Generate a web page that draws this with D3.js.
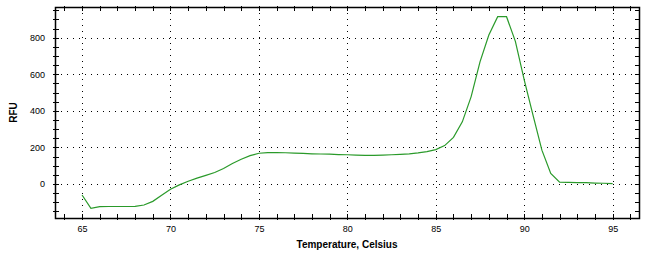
<!DOCTYPE html>
<html><head><meta charset="utf-8">
<script src="https://cdn.jsdelivr.net/npm/d3@7"></script>
<style>body{margin:0;background:#fff}svg{display:block}</style>
</head><body><svg id="c" width="653" height="260"></svg>
<script>
const temps = [65,65.5,66,66.5,67,67.5,68,68.5,69,69.5,70,70.5,71,71.5,72,72.5,73,73.5,74,74.5,75,75.5,76,76.5,77,77.5,78,78.5,79,79.5,80,80.5,81,81.5,82,82.5,83,83.5,84,84.5,85,85.5,86,86.5,87,87.5,88,88.5,89,89.5,90,90.5,91,91.5,92,92.5,93,93.5,94,94.5,95];
const rfu = [-60,-133,-124,-123,-123,-123,-122,-115,-95,-62,-29,-5,15,32,47,63,85,112,135,155,168,172,172,171,169,167,165,164,163,161,160,158,157,157,158,160,162,165,170,177,188,210,255,340,478,668,815,915,915,780,570,375,185,58,10,9,8,7,5,4,2];
const xTicks = [65,70,75,80,85,90,95];
const yTicks = [0,200,400,600,800];
const xLabel = "Temperature, Celsius";
const yLabel = "RFU";

const svg = d3.select("#c");
const L=55,R=639,T=7,B=218;
const x = d3.scaleLinear().domain([63.47,96.49]).range([L,R]);
const y = d3.scaleLinear().domain([-186,968]).range([B,T]);
const font = "'Liberation Sans', Arial, sans-serif";

// grid
const g = svg.append("g");
g.selectAll(".gx").data(xTicks).join("line")
  .attr("x1",d=>Math.round(x(d))+0.5).attr("x2",d=>Math.round(x(d))+0.5)
  .attr("y1",T).attr("y2",B).attr("stroke","#000").attr("stroke-dasharray","1,5");
g.selectAll(".gy").data(yTicks).join("line")
  .attr("y1",d=>Math.round(y(d))+0.5).attr("y2",d=>Math.round(y(d))+0.5)
  .attr("x1",L).attr("x2",R).attr("stroke","#000").attr("stroke-dasharray","1,5");

// minor ticks
const xMinor = d3.range(64,97,1);
const yMinor = d3.range(-150,951,50);
const tk = svg.append("g").attr("stroke","#000").attr("stroke-width",1);
xMinor.forEach(t=>{
  const px = Math.round(x(t))+0.5;
  tk.append("line").attr("x1",px).attr("x2",px).attr("y1",B+2).attr("y2",B-4);
  tk.append("line").attr("x1",px).attr("x2",px).attr("y1",T-1).attr("y2",T+4);
});
yMinor.forEach(v=>{
  const py = Math.round(y(v))+0.5;
  tk.append("line").attr("y1",py).attr("y2",py).attr("x1",L-2).attr("x2",L+4);
  tk.append("line").attr("y1",py).attr("y2",py).attr("x1",R+1).attr("x2",R-4);
});

// frame
svg.append("rect").attr("x",L+0.5).attr("y",T+0.5).attr("width",R-L).attr("height",B-T)
  .attr("fill","none").attr("stroke","#000").attr("stroke-width",1.5);

// axes labels via d3 axes (no lines)
const ax = svg.append("g").attr("transform",`translate(0,${B})`)
  .call(d3.axisBottom(x).tickValues(xTicks).tickSize(0).tickPadding(8).tickFormat(d3.format("d")));
ax.select(".domain").remove();
ax.selectAll("text").attr("font-family",font).attr("font-size",9).attr("fill","#000");
const ay = svg.append("g").attr("transform",`translate(${L},0)`)
  .call(d3.axisLeft(y).tickValues(yTicks).tickSize(0).tickPadding(10).tickFormat(d3.format("d")));
ay.select(".domain").remove();
ay.selectAll("text").attr("font-family",font).attr("font-size",9).attr("fill","#000");

svg.append("text").attr("x",(L+R)/2).attr("y",248).attr("text-anchor","middle")
  .attr("font-family",font).attr("font-size",10).attr("font-weight","bold").text(xLabel);
svg.append("text").attr("transform",`translate(17,${(T+B)/2}) rotate(-90)`).attr("text-anchor","middle")
  .attr("font-family",font).attr("font-size",10).attr("font-weight","bold").text(yLabel);

// curve
const line = d3.line().x((d,i)=>x(temps[i])).y(d=>y(d)).curve(d3.curveLinear);
svg.append("path").datum(rfu).attr("d",line).attr("fill","none")
  .attr("stroke","#2a9a2a").attr("stroke-width",1.2);
</script></body></html>
